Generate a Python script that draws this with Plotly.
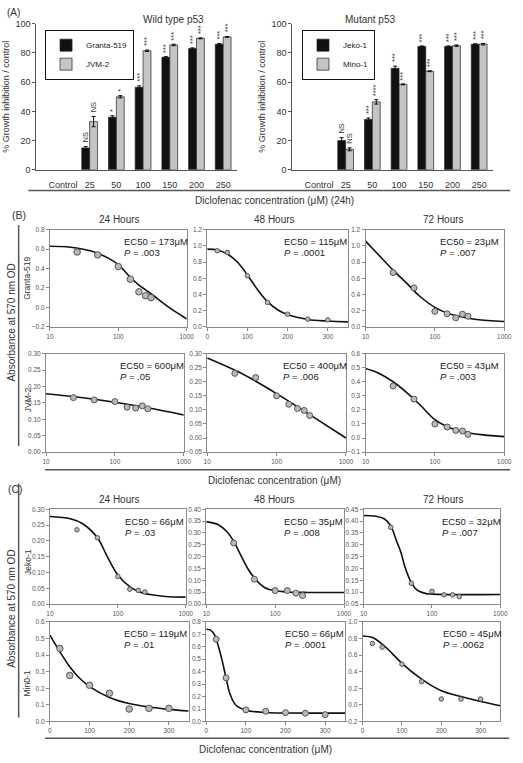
import plotly.graph_objects as go

W, H = 523, 763

# ---------------- Panel A data ----------------
categories = ["Control", "25", "50", "100", "150", "200", "250"]
granta_inhibition = [None, 15, 36, 56.5, 77, 83, 86]
granta_error = [0, 1.0, 1.0, 1.0, 0.5, 0.5, 0.5]
granta_sig = ["", "NS", "*", "***", "***", "***", "***"]
jvm2_inhibition = [None, 33, 50, 81.5, 85.5, 90, 91]
jvm2_error = [0, 3.5, 0.8, 0.5, 0.5, 0.3, 0.3]
jvm2_sig = ["", "NS", "*", "***", "***", "***", "***"]
jeko_inhibition = [None, 20, 34.5, 69.5, 84.5, 84.5, 86]
jeko_error = [0, 2.0, 1.0, 1.5, 0.3, 0.3, 0.3]
jeko_sig = ["", "NS", "***", "***", "***", "***", "***"]
mino_inhibition = [None, 14, 46.5, 58.5, 67.5, 85, 86]
mino_error = [0, 1.0, 1.5, 0.3, 0.3, 0.5, 0.5]
mino_sig = ["", "NS", "****", "***", "***", "***", "***"]

# ---------------- Panel B / C data ----------------
doses_7 = [25, 50, 100, 150, 200, 250, 300]
doses_6 = [25, 50, 100, 150, 200, 250]

granta_24h_od = [0.57, 0.54, 0.42, 0.29, 0.16, 0.12, 0.10]
granta_24h_fit_x = [10, 20, 40, 70, 100, 150, 200, 250, 300, 500, 700, 1000]
granta_24h_fit_y = [0.63, 0.62, 0.58, 0.51, 0.44, 0.31, 0.23, 0.18, 0.14, 0.02, -0.05, -0.12]

granta_48h_od = [0.94, 0.92, 0.63, 0.30, 0.155, 0.094, 0.085]
granta_48h_fit_x = [0, 25, 50, 75, 100, 125, 150, 175, 200, 250, 300, 350]
granta_48h_fit_y = [0.96, 0.95, 0.90, 0.80, 0.64, 0.46, 0.31, 0.21, 0.15, 0.09, 0.07, 0.06]

granta_72h_od = [0.67, 0.48, 0.19, 0.16, 0.11, 0.155, 0.13]
granta_72h_fit_x = [10, 15, 25, 40, 60, 100, 150, 250, 400, 1000]
granta_72h_fit_y = [1.06, 0.90, 0.70, 0.53, 0.38, 0.24, 0.17, 0.12, 0.09, 0.065]

jvm2_24h_od = [0.166, 0.159, 0.154, 0.137, 0.134, 0.141, 0.132]
jvm2_24h_fit_x = [10, 30, 100, 300, 1000]
jvm2_24h_fit_y = [0.178, 0.167, 0.152, 0.135, 0.113]

jvm2_48h_od = [0.23, 0.215, 0.15, 0.12, 0.105, 0.098, 0.08]
jvm2_48h_fit_x = [10, 30, 100, 300, 1000]
jvm2_48h_fit_y = [0.285, 0.232, 0.158, 0.083, 0.0]

jvm2_72h_od = [0.37, 0.277, 0.10, 0.078, 0.054, 0.05, 0.026]
jvm2_72h_fit_x = [10, 15, 25, 40, 60, 100, 150, 200, 300, 500, 1000]
jvm2_72h_fit_y = [0.495, 0.465, 0.40, 0.32, 0.24, 0.13, 0.08, 0.058, 0.038, 0.022, 0.01]

jeko_24h_od = [0.235, 0.21, 0.0875, 0.047, 0.043, 0.038]
jeko_24h_fit_x = [10, 20, 30, 50, 70, 100, 150, 200, 300, 500, 1000]
jeko_24h_fit_y = [0.277, 0.27, 0.255, 0.21, 0.15, 0.092, 0.055, 0.04, 0.03, 0.024, 0.022]

jeko_48h_od = [0.258, 0.105, 0.057, 0.057, 0.046, 0.036]
jeko_48h_fit_x = [10, 15, 20, 25, 30, 40, 50, 70, 100, 150, 300, 1000]
jeko_48h_fit_y = [0.348, 0.335, 0.305, 0.265, 0.22, 0.15, 0.11, 0.07, 0.056, 0.051, 0.049, 0.049]

jeko_72h_od = [0.374, 0.1375, 0.104, 0.089, 0.089, 0.081]
jeko_72h_fit_x = [10, 15, 20, 25, 30, 35, 40, 50, 60, 80, 100, 1000]
jeko_72h_fit_y = [0.424, 0.421, 0.41, 0.38, 0.32, 0.27, 0.21, 0.14, 0.11, 0.095, 0.092, 0.09]

mino_24h_od = [0.44, 0.277, 0.218, 0.17, 0.075, 0.079, 0.079]
mino_24h_fit_x = [0, 25, 50, 75, 100, 150, 200, 250, 300, 350]
mino_24h_fit_y = [0.52, 0.42, 0.33, 0.26, 0.21, 0.145, 0.108, 0.087, 0.073, 0.063]

mino_48h_od = [0.66, 0.35, 0.093, 0.082, 0.071, 0.066, 0.055]
mino_48h_fit_x = [0, 10, 20, 25, 30, 40, 50, 60, 75, 100, 150, 200, 350]
mino_48h_fit_y = [0.74, 0.735, 0.70, 0.66, 0.61, 0.49, 0.35, 0.22, 0.13, 0.09, 0.072, 0.068, 0.067]

mino_72h_od = [0.74, 0.695, 0.49, 0.28, 0.07, 0.07, 0.07]
mino_72h_fit_x = [0, 25, 50, 75, 100, 150, 200, 250, 300, 350]
mino_72h_fit_y = [0.83, 0.81, 0.73, 0.62, 0.50, 0.31, 0.17, 0.10, 0.04, -0.01]

ec50_labels = ["173μM", "115μM", "23μM", "600μM", "400μM", "43μM",
               "66μM", "35μM", "32μM", "119μM", "66μM", "45μM"]
p_labels = [".003", ".0001", ".007", ".05", ".006", ".003",
            ".03", ".008", ".007", ".01", ".0001", ".0062"]

FONT = "Arial, Liberation Sans, Helvetica, sans-serif"


def px(x):
    return x / W


def py(y):
    return 1 - y / H


fig = go.Figure()
layout = dict(
    width=W, height=H, autosize=False,
    margin=dict(l=0, r=0, t=0, b=0),
    paper_bgcolor="white", plot_bgcolor="white",
    font=dict(family=FONT, color="#222", size=9),
    barmode="group", bargap=0.41, bargroupgap=0.0,
    showlegend=True,
)
annotations = []
shapes = []

# ---------------- Panel A ----------------
cat_pos = list(range(len(categories)))
bar_sets = [
    ("x", "y", "legend", [("Granta-519", granta_inhibition, granta_error, granta_sig, "#111111"),
                          ("JVM-2", jvm2_inhibition, jvm2_error, jvm2_sig, "#c4c4c4")],
     (33, 238), "Wild type p53", 140, (42, 25)),
    ("x2", "y2", "legend2", [("Jeko-1", jeko_inhibition, jeko_error, jeko_sig, "#111111"),
                             ("Mino-1", mino_inhibition, mino_error, mino_sig, "#c4c4c4")],
     (295, 500), "Mutant p53", 402, (305, 25)),
]
half = (1 - 0.41) / 4
for xa, ya, leg, series, (xl, xr), title, tx, (lx, ly) in bar_sets:
    for k, (name, vals, errs, sig, col) in enumerate(series):
        fig.add_trace(go.Bar(
            x=cat_pos, y=vals, name=name, xaxis=xa, yaxis=ya, legend=leg,
            marker=dict(color=col, line=dict(color="#222", width=0.7)),
            error_y=dict(type="data", array=errs, color="#111", thickness=1, width=2),
        ))
        off = -half if k == 0 else half
        for i, (v, e, s) in enumerate(zip(vals, errs, sig)):
            if v is None or not s:
                continue
            annotations.append(dict(
                x=i + off, y=v + e + 1.2, xref=xa, yref=ya, text=s, showarrow=False,
                textangle=-90, xanchor="center", yanchor="bottom",
                font=dict(size=7.5, color="#333", family=FONT)))
    idx = "" if xa == "x" else "2"
    layout["xaxis" + idx] = dict(
        domain=[px(xl), px(xr)], anchor=ya, range=[-1, 6.5],
        tickvals=cat_pos, ticktext=categories, ticks="", ticklabelstandoff=6,
        showline=True, linecolor="#555", linewidth=1, showgrid=False, zeroline=False,
        tickfont=dict(size=9, color="#333"))
    layout["yaxis" + idx] = dict(
        domain=[py(167), py(19)], anchor=xa, range=[0, 100], dtick=20,
        ticks="outside", ticklen=3, tickcolor="#555",
        showline=True, linecolor="#555", linewidth=1, showgrid=False, zeroline=False,
        tickfont=dict(size=9, color="#333"),
        title=dict(text="% Growth inhibition / control", font=dict(size=9, color="#333"), standoff=4))
    layout[leg] = dict(
        x=px(lx), y=py(ly), xanchor="left", yanchor="top",
        bordercolor="#111", borderwidth=1, bgcolor="white",
        font=dict(size=8, color="#222"), tracegroupgap=0, itemwidth=30,
        traceorder="normal")
    annotations.append(dict(x=px(tx), y=py(7), xref="paper", yref="paper", text=title,
                            showarrow=False, font=dict(size=10, color="#333")))

# ---------------- Panels B & C ----------------
panel_specs = [
    # axis n, log-x?, x-left, x-right, y-top, y-bottom, y-range, dtick, fmt, doses, od, fit x, fit y, marker size, text pos
    (3, True, 47, 187, 227.7, 326, [-0.2, 0.8], 0.2, ".1f", doses_7, granta_24h_od, granta_24h_fit_x, granta_24h_fit_y, 6.5, 0.53),
    (4, False, 208, 352, 227.7, 326, [0, 1.2], 0.2, ".1f", doses_7, granta_48h_od, granta_48h_fit_x, granta_48h_fit_y, 4.5, 0.53),
    (5, True, 370, 512, 227.7, 326, [0, 1.2], 0.2, ".1f", doses_7, granta_72h_od, granta_72h_fit_x, granta_72h_fit_y, 6, 0.52),
    (6, True, 43, 184, 353.3, 453, [0, 0.30], 0.05, ".2f", doses_7, jvm2_24h_od, jvm2_24h_fit_x, jvm2_24h_fit_y, 6, 0.52),
    (7, True, 208, 350, 353.3, 453, [-0.05, 0.30], 0.05, ".2f", doses_7, jvm2_48h_od, jvm2_48h_fit_x, jvm2_48h_fit_y, 6, 0.53),
    (8, True, 370, 512, 353.3, 453, [-0.1, 0.6], 0.1, ".1f", doses_7, jvm2_72h_od, jvm2_72h_fit_x, jvm2_72h_fit_y, 6, 0.52),
    (9, True, 47, 186, 511, 607, [0, 0.30], 0.05, ".2f", doses_6, jeko_24h_od, jeko_24h_fit_x, jeko_24h_fit_y, 4.5, 0.54),
    (10, True, 207, 348, 511, 607, [0, 0.40], 0.05, ".2f", doses_6, jeko_48h_od, jeko_48h_fit_x, jeko_48h_fit_y, 6, 0.55),
    (11, True, 368, 508, 511, 607, [0.05, 0.45], 0.05, ".2f", doses_6, jeko_72h_od, jeko_72h_fit_x, jeko_72h_fit_y, 4.5, 0.56),
    (12, False, 47, 189, 625, 726, [0, 0.6], 0.1, ".1f", doses_7, mino_24h_od, mino_24h_fit_x, mino_24h_fit_y, 6.5, 0.52),
    (13, False, 207, 349, 625, 726, [0, 0.8], 0.1, ".1f", doses_7, mino_48h_od, mino_48h_fit_x, mino_48h_fit_y, 6, 0.55),
    (14, False, 367, 508, 625, 726, [-0.2, 1.0], 0.2, ".1f", doses_7, mino_72h_od, mino_72h_fit_x, mino_72h_fit_y, 4.5, 0.57),
]

for j, (n, xlog, xl, xr, yt, yb, yr, dt, fmt, dose, od, fx, fy, ms, tpos) in enumerate(panel_specs):
    xa, ya = f"x{n}", f"y{n}"
    fig.add_trace(go.Scatter(x=fx, y=fy, mode="lines", line=dict(color="#111", width=1.6, shape="spline"),
                             xaxis=xa, yaxis=ya, showlegend=False, hoverinfo="skip"))
    fig.add_trace(go.Scatter(x=dose, y=od, mode="markers",
                             marker=dict(size=ms, color="#b9b9b9", line=dict(color="#555", width=1)),
                             xaxis=xa, yaxis=ya, showlegend=False))
    common = dict(showline=True, mirror=True, linecolor="#8a8a8a", linewidth=1, showgrid=False,
                  zeroline=False, ticks="outside", ticklen=3, tickcolor="#8a8a8a",
                  tickfont=dict(size=6.5, color="#555"))
    if xlog:
        xax = dict(type="log", range=[1, 3], tickvals=[10, 100, 1000], ticktext=["10", "100", "1000"], **common)
    else:
        xax = dict(range=[0, 350], tickvals=[0, 100, 200, 300], **common)
    xax.update(domain=[px(xl), px(xr)], anchor=ya)
    layout[f"xaxis{n}"] = xax
    layout[f"yaxis{n}"] = dict(domain=[py(yb), py(yt)], anchor=xa, range=yr, dtick=dt, tick0=0,
                               tickformat=fmt, **common)
    hpx = yb - yt
    annotations.append(dict(xref=f"{xa} domain", yref=f"{ya} domain", x=tpos, y=1 - 12 / hpx,
                            xanchor="left", yanchor="middle", showarrow=False,
                            text=f"EC50 = {ec50_labels[j]}", font=dict(size=9.5, color="#222")))
    annotations.append(dict(xref=f"{xa} domain", yref=f"{ya} domain", x=tpos, y=1 - 23 / hpx,
                            xanchor="left", yanchor="middle", showarrow=False,
                            text=f"<i>P</i> = {p_labels[j]}", font=dict(size=9.5, color="#222")))

# titles / labels
text_items = [
    ("(A)", 10, 8, 10, 0),
    ("(B)", 15, 213, 10.5, 0),
    ("(C)", 12, 490, 10.5, 0),
    ("24 Hours", 118, 217, 10, 0), ("48 Hours", 277, 217, 10, 0), ("72 Hours", 450, 217, 10, 0),
    ("24 Hours", 118, 501, 10, 0), ("48 Hours", 277, 501, 10, 0), ("72 Hours", 450, 501, 10, 0),
    ("Diclofenac concentration (μM) (24h)", 277, 198, 10, 0),
    ("Diclofenac concentration (μM)", 277, 482, 10, 0),
    ("Diclofenac concentration (μM)", 268, 754, 10, 0),
    ("Granta-519", 24, 277, 8.5, -90),
    ("JVM-2", 24, 400, 8.5, -90),
    ("Jeko-1", 24, 564, 8.5, -90),
    ("Min0-1", 24, 687, 8.5, -90),
    ("Absorbance at 570 nm OD", 8, 322, 10, -90),
    ("Absorbance at 570 nm OD", 8, 612, 10, -90),
]
for t, x, y, s, ang in text_items:
    annotations.append(dict(x=px(x), y=py(y), xref="paper", yref="paper", text=t, showarrow=False,
                            textangle=ang, xanchor="center", yanchor="middle",
                            font=dict(size=s, color="#333")))

# separator lines
line_items = [
    (25, 188, 518, 188),
    (42, 471, 518, 471),
    (42, 743, 517, 743),
    (15, 223, 15, 447),
    (15, 485, 15, 722),
]
for x0, y0, x1, y1 in line_items:
    shapes.append(dict(type="line", xref="paper", yref="paper", x0=px(x0), y0=py(y0), x1=px(x1), y1=py(y1),
                       line=dict(color="#555", width=1.5)))

layout["annotations"] = annotations
layout["shapes"] = shapes
fig.update_layout(**layout)
fig.write_html("out.html",
               config={"displayModeBar": False},
               post_script="document.body.style.margin='0';document.body.style.overflow='hidden';")
